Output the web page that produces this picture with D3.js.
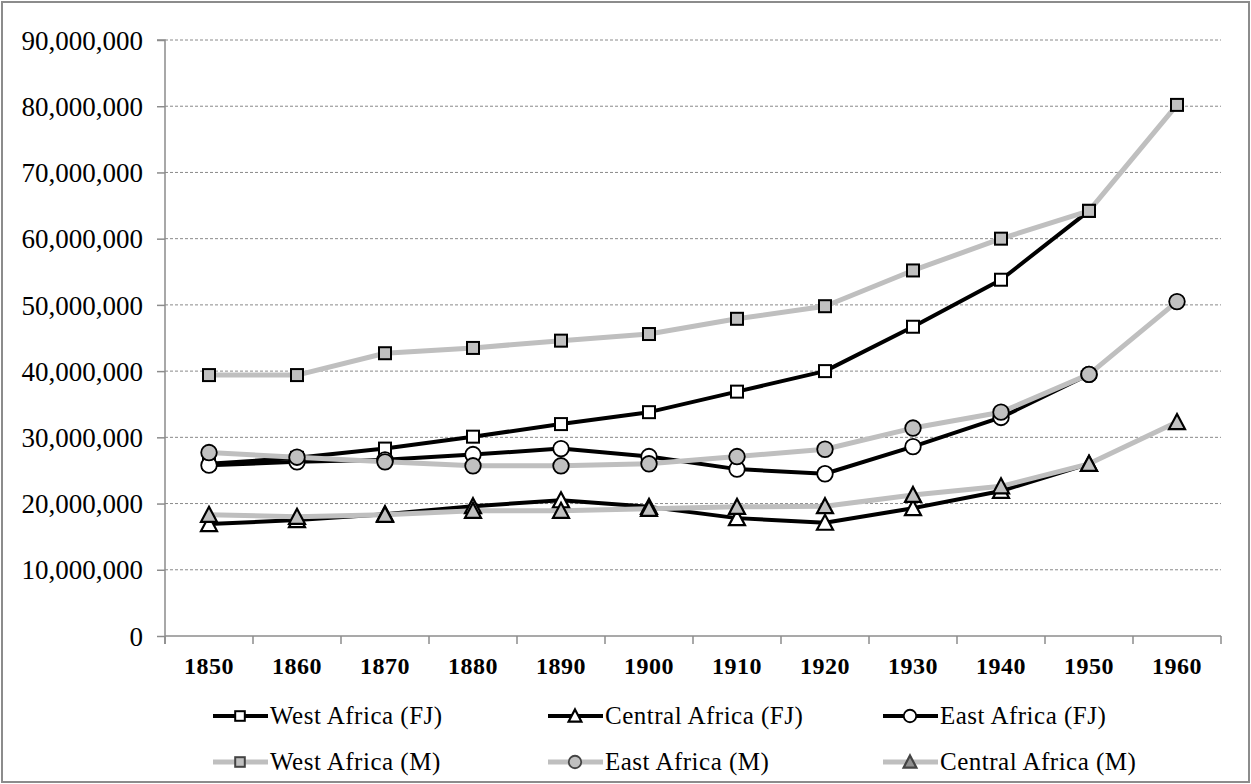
<!DOCTYPE html>
<html>
<head>
<meta charset="utf-8">
<script src="https://cdn.jsdelivr.net/npm/d3@7/dist/d3.min.js"></script>
<style>
html,body{margin:0;padding:0;background:#fff;}
svg{display:block;}
text{font-family:"Liberation Serif","Times New Roman",serif;fill:#000;}
</style>
</head>
<body>
<svg id="chart" width="1251" height="784"></svg>
<script>
const years = [1850,1860,1870,1880,1890,1900,1910,1920,1930,1940,1950,1960];
const westFJ    = [26.0e6,26.9e6,28.3e6,30.1e6,32.0e6,33.8e6,36.9e6,40.0e6,46.7e6,53.8e6,64.2e6,null];
const centralFJ = [16.9e6,17.5e6,18.4e6,19.6e6,20.5e6,19.5e6,17.8e6,17.1e6,19.3e6,21.9e6,26.0e6,null];
const eastFJ    = [25.8e6,26.3e6,26.6e6,27.4e6,28.3e6,27.1e6,25.2e6,24.5e6,28.6e6,33.0e6,39.5e6,null];
const westM     = [39.4e6,39.4e6,42.7e6,43.5e6,44.6e6,45.6e6,47.9e6,49.8e6,55.2e6,60.0e6,64.2e6,80.2e6];
const eastM     = [27.7e6,27.0e6,26.3e6,25.7e6,25.7e6,26.0e6,27.1e6,28.2e6,31.4e6,33.8e6,39.5e6,50.5e6];
const centralM  = [18.3e6,18.0e6,18.3e6,18.9e6,18.9e6,19.2e6,19.5e6,19.6e6,21.3e6,22.6e6,26.0e6,32.3e6];
const yTicks = [0,10e6,20e6,30e6,40e6,50e6,60e6,70e6,80e6,90e6];

const seriesNames = ["West Africa (FJ)","Central Africa (FJ)","East Africa (FJ)","West Africa (M)","East Africa (M)","Central Africa (M)"];

const series = [
  {name:seriesNames[0], values:westFJ,    shape:"square",   fj:true},
  {name:seriesNames[1], values:centralFJ, shape:"triangle", fj:true},
  {name:seriesNames[2], values:eastFJ,    shape:"circle",   fj:true},
  {name:seriesNames[3], values:westM,     shape:"square",   fj:false},
  {name:seriesNames[4], values:eastM,     shape:"circle",   fj:false},
  {name:seriesNames[5], values:centralM,  shape:"triangle", fj:false}
];

const svg = d3.select("#chart");
const L = 165, R = 1221, T = 40, B = 636;

svg.append("rect").attr("x",2).attr("y",2).attr("width",1247).attr("height",780)
  .attr("fill","#fff").attr("stroke","#8c8c8c").attr("stroke-width",2);

const x = d3.scaleBand().domain(years).range([L,R]);
const y = d3.scaleLinear().domain([0,90e6]).range([B,T]);
const cx = d => x(d) + x.bandwidth()/2;

// gridlines
svg.append("g").selectAll("line").data(yTicks.filter(t=>t>0)).join("line")
  .attr("x1",L).attr("x2",R).attr("y1",d=>y(d)).attr("y2",d=>y(d))
  .attr("stroke","#8a8a8a").attr("stroke-width",1).attr("stroke-dasharray","3,2");

// y axis
const yAxis = d3.axisLeft(y).tickValues(yTicks).tickSize(8).tickPadding(14)
  .tickFormat(d3.format(","));
const gy = svg.append("g").attr("transform",`translate(${L},0)`).call(yAxis);
gy.select(".domain").attr("stroke","#8c8c8c").attr("stroke-width",1.5).attr("d",`M-8,${T}H0V${B+8}`);
gy.selectAll(".tick line").attr("stroke","#8c8c8c").attr("stroke-width",1.5);
gy.selectAll("text").style("font-family",'"Liberation Serif",serif').style("font-size","27px").attr("fill","#000").attr("dy","0.34em");

// x axis
const gx = svg.append("g").attr("transform",`translate(0,${B})`);
gx.append("line").attr("x1",L).attr("x2",R).attr("y1",0).attr("y2",0).attr("stroke","#8c8c8c").attr("stroke-width",1.5);
const bounds = years.map(d=>x(d)).concat([R]);
gx.selectAll("line.tk").data(bounds).join("line").attr("class","tk")
  .attr("x1",d=>d).attr("x2",d=>d).attr("y1",0).attr("y2",8).attr("stroke","#8c8c8c").attr("stroke-width",1.5);
gx.selectAll("text").data(years).join("text")
  .attr("x",d=>cx(d)).attr("y",30).attr("dy","0.34em").attr("text-anchor","middle")
  .style("font-size","24px").style("font-weight","bold").style("letter-spacing","0.5px").text(d=>d);

const GRAY_LINE = "#bfbfbf", GRAY_FILL = "#c0c0c0";

function drawMarker(g, shape, px, py, fill, stroke, scale){
  const s = scale||1;
  if(shape==="square"){
    const a = 12*s;
    g.append("rect").attr("x",px-a/2).attr("y",py-a/2).attr("width",a).attr("height",a)
      .attr("fill",fill).attr("stroke",stroke).attr("stroke-width",2);
  } else if(shape==="circle"){
    g.append("circle").attr("cx",px).attr("cy",py).attr("r",7.8*s)
      .attr("fill",fill).attr("stroke",stroke).attr("stroke-width",1.8);
  } else {
    const w = 16*s, h = 14*s;
    g.append("path").attr("d",`M${px},${py-h/2-1}L${px+w/2},${py+h/2}L${px-w/2},${py+h/2}Z`)
      .attr("fill",fill).attr("stroke",stroke).attr("stroke-width",2.2).attr("stroke-linejoin","miter");
  }
}

const line = d3.line().defined(d=>d.v!==null).x(d=>cx(d.yr)).y(d=>y(d.v));
const pts = s => years.map((yr,i)=>({yr, v:s.values[i]}));

const gLines = svg.append("g");
series.filter(s=>s.fj).forEach(s=>{
  gLines.append("path").attr("d",line(pts(s))).attr("fill","none")
    .attr("stroke","#000").attr("stroke-width",4).attr("stroke-linejoin","round");
});
series.filter(s=>!s.fj).forEach(s=>{
  gLines.append("path").attr("d",line(pts(s))).attr("fill","none")
    .attr("stroke",GRAY_LINE).attr("stroke-width",5).attr("stroke-linejoin","round");
});
const gMarks = svg.append("g");
series.filter(s=>s.fj).forEach(s=>{
  pts(s).filter(d=>d.v!==null).forEach(d=>drawMarker(gMarks,s.shape,cx(d.yr),y(d.v),"#fff","#000"));
});
series.filter(s=>!s.fj).forEach(s=>{
  pts(s).filter(d=>d.v!==null).forEach(d=>drawMarker(gMarks,s.shape,cx(d.yr),y(d.v),GRAY_FILL,"#000"));
});

// legend
const legendRows = [716, 762];
const colX = [213, 548, 883];
const legend = svg.append("g");
series.forEach((s,i)=>{
  const row = s.fj ? 0 : 1;
  const col = s.fj ? i : i-3;
  const x0 = colX[col], yy = legendRows[row];
  legend.append("line").attr("x1",x0).attr("x2",x0+55).attr("y1",yy).attr("y2",yy)
    .attr("stroke", s.fj ? "#000" : GRAY_LINE).attr("stroke-width", s.fj?4:5);
  drawMarker(legend, s.shape, x0+27, yy, s.fj?"#fff":(s.shape==="triangle"?"#8f8f8f":GRAY_FILL), s.fj?"#000":"#444", 0.8);
  legend.append("text").attr("x",x0+57).attr("y",yy).attr("dy","0.33em")
    .style("font-size","25px").style("letter-spacing","0.5px").text(s.name);
});
</script>
</body>
</html>
